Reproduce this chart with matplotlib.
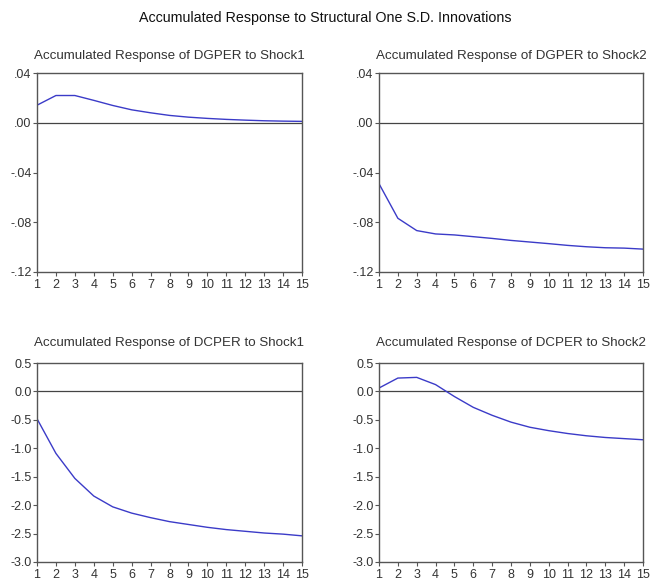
import matplotlib
matplotlib.use("Agg")
import matplotlib.pyplot as plt

plt.rcParams['font.family'] = ['Liberation Sans', 'DejaVu Sans']

periods = list(range(1, 16))

dgper_shock1 = [0.0141, 0.0219, 0.0219, 0.0180, 0.0139, 0.0104, 0.0080, 0.0059,
                0.0045, 0.0035, 0.0027, 0.0021, 0.0016, 0.0013, 0.0011]
dgper_shock2 = [-0.0490, -0.0768, -0.0867, -0.0894, -0.0902, -0.0916, -0.0930, -0.0946,
                -0.0959, -0.0972, -0.0986, -0.0997, -0.1005, -0.1008, -0.1016]
dcper_shock1 = [-0.48, -1.09, -1.53, -1.84, -2.03, -2.14, -2.22, -2.29,
                -2.34, -2.39, -2.43, -2.46, -2.49, -2.51, -2.54]
dcper_shock2 = [0.06, 0.235, 0.247, 0.12, -0.09, -0.28, -0.42, -0.54,
                -0.63, -0.69, -0.74, -0.78, -0.81, -0.83, -0.85]

titles = ["Accumulated Response of DGPER to Shock1",
          "Accumulated Response of DGPER to Shock2",
          "Accumulated Response of DCPER to Shock1",
          "Accumulated Response of DCPER to Shock2"]

dg_ticks = [0.04, 0.00, -0.04, -0.08, -0.12]
dg_labels = [".04", ".00", "-.04", "-.08", "-.12"]
dc_ticks = [0.5, 0.0, -0.5, -1.0, -1.5, -2.0, -2.5, -3.0]
dc_labels = ["0.5", "0.0", "-0.5", "-1.0", "-1.5", "-2.0", "-2.5", "-3.0"]

suptitle = "Accumulated Response to Structural One S.D. Innovations"

fig = plt.figure(figsize=(6.51, 5.82), dpi=100)
W, H = 651, 582

def px_axes(x0, y0, x1, y1):
    return fig.add_axes([x0 / W, 1 - y1 / H, (x1 - x0) / W, (y1 - y0) / H])

boxes = [(37, 73, 302, 272), (379, 73, 643, 272),
         (37, 363, 302, 562), (379, 363, 643, 562)]
series = [dgper_shock1, dgper_shock2, dcper_shock1, dcper_shock2]
yt = [dg_ticks, dg_ticks, dc_ticks, dc_ticks]
yl = [dg_labels, dg_labels, dc_labels, dc_labels]
ylims = [(-0.12, 0.04), (-0.12, 0.04), (-3.0, 0.5), (-3.0, 0.5)]
pads = [10, 10, 12, 12]

spine_col = '#555555'
text_col = '#333333'
for box, s, t, ticks, labels, lim, pd in zip(boxes, series, titles, yt, yl, ylims, pads):
    ax = px_axes(*box)
    ax.axhline(0, color='#444444', lw=0.9, zorder=1)
    ax.plot(periods, s, color='#3b3bc8', lw=1.0, zorder=2)
    ax.set_xlim(1, 15)
    ax.set_ylim(*lim)
    ax.set_xticks(periods)
    ax.set_xticklabels([str(p) for p in periods])
    ax.set_yticks(ticks)
    ax.set_yticklabels(labels)
    ax.tick_params(axis='both', direction='out', length=3, width=0.8,
                   color=spine_col, labelsize=9, labelcolor=text_col, pad=1)
    ax.tick_params(axis='x', pad=2)
    for sp in ax.spines.values():
        sp.set_color(spine_col)
        sp.set_linewidth(1.0)
    ax.set_title(t, fontsize=9.6, color=text_col, pad=pd)

fig.text(0.5, 1 - 18 / H, suptitle, ha='center', va='center', fontsize=10.3, color='#111111')

fig.savefig("out.png", dpi=100)
